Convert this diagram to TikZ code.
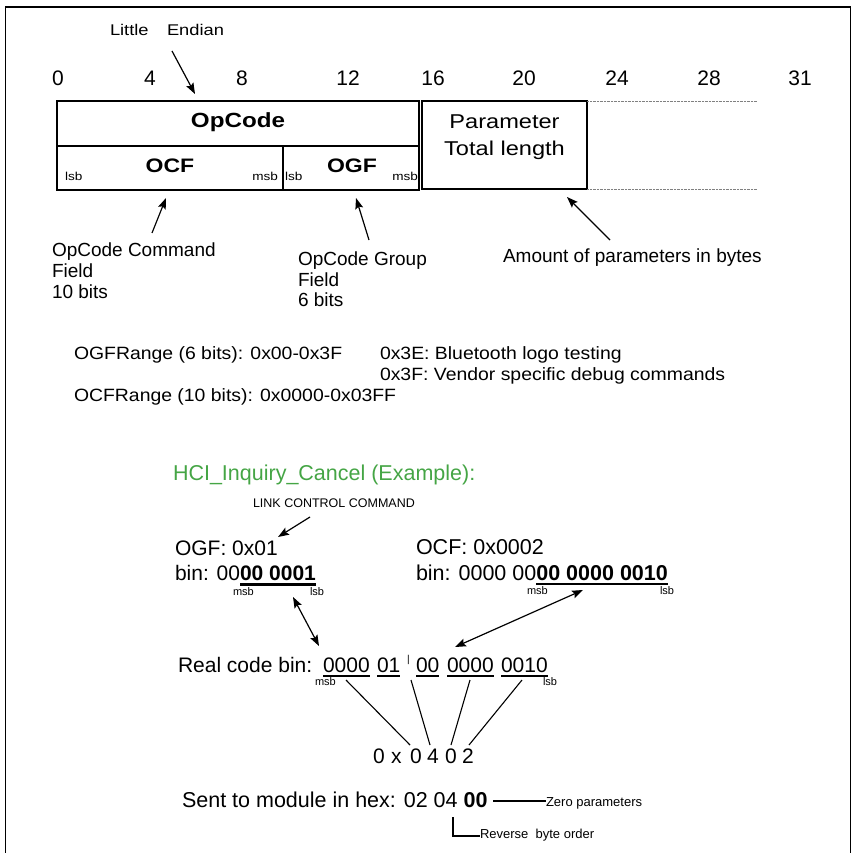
\documentclass[tikz,border=0pt]{standalone}
\usepackage{fontspec}
\setmainfont{Liberation Sans}
\newfontfamily\widefont[FakeStretch=1.18]{Liberation Sans}
\newfontfamily\medfont[FakeStretch=1.09]{Liberation Sans}
\usetikzlibrary{arrows.meta}
\definecolor{hcigreen}{RGB}{69,165,69}
\newcommand{\fsz}[1]{\fontsize{#1}{#1}\selectfont}
\begin{document}
\begin{tikzpicture}[x=1pt,y=-1pt,
  txt/.style={inner sep=0pt, outer sep=0pt, anchor=base west},
  ctxt/.style={inner sep=0pt, outer sep=0pt, anchor=base},
  rtxt/.style={inner sep=0pt, outer sep=0pt, anchor=base east},
  boxline/.style={line width=1.8pt},
  arr/.style={line width=1.2pt, -{Stealth[length=11pt,width=8pt,inset=2pt]}},
  darr/.style={line width=1.2pt, {Stealth[length=11pt,width=8pt,inset=2pt]}-{Stealth[length=11pt,width=8pt,inset=2pt]}},
  thinline/.style={line width=1.1pt},
  uline/.style={line width=2.2pt},
  dots/.style={line width=0.8pt, gray, dash pattern=on 0.7pt off 0.7pt}
]
\useasboundingbox (0,0) rectangle (853,853);
% frame
\draw[line width=1.5pt] (5.5,860) -- (5.5,7) -- (850.5,7) -- (850.5,860);

% header
\node[txt,font=\widefont\fsz{15.5}] (little) at (110,36) {Little};
\node[txt,font=\widefont\fsz{15.5}] (endian) at (167,36) {Endian};
\coordinate (leS) at (172,51);
\coordinate (leE) at (195,94);
\draw[arr] (leS) -- (leE);

\foreach \n/\x in {0/58,4/150,8/242,12/348,16/433,20/524,24/617,28/709,31/800}
  \node[ctxt,font=\fsz{21}] (num\n) at (\x,86) {\n};

% boxes
\draw[boxline] (57,101) rectangle (419,146);
\draw[boxline] (57,146) rectangle (283,190);
\draw[boxline] (283,146) rectangle (419,190);
\draw[boxline] (422,101) rectangle (587,189);
\draw[dots] (587,101) -- (757,101);
\draw[dots] (587,189) -- (757,189);

\node[ctxt,font=\widefont\bfseries\fsz{20.5}] (opcode) at (238,128) {OpCode};
\node[ctxt,font=\widefont\bfseries\fsz{19.5}] (ocf) at (170,173) {OCF};
\node[ctxt,font=\widefont\bfseries\fsz{19.5}] (ogf) at (352,173) {OGF};
\node[txt,font=\widefont\fsz{11.5}] (lsbA) at (65,180) {lsb};
\node[rtxt,font=\widefont\fsz{11.5}] (msbA) at (278,180) {msb};
\node[txt,font=\widefont\fsz{11.5}] (lsbB) at (285,180) {lsb};
\node[rtxt,font=\widefont\fsz{11.5}] (msbB) at (418,180) {msb};
\node[ctxt,font=\widefont\fsz{20}] (par1) at (504.5,129) {Parameter};
\node[ctxt,font=\widefont\fsz{20}] (par2) at (504.5,156) {Total length};

% field labels
\node[txt,font=\fsz{19}] (ocfl1) at (52,256) {OpCode Command};
\node[txt,font=\fsz{19}] (ocfl2) at (52,277) {Field};
\node[txt,font=\fsz{19}] (ocfl3) at (52,298) {10 bits};
\node[txt,font=\fsz{19}] (ogfl1) at (298,265) {OpCode Group};
\node[txt,font=\fsz{19}] (ogfl2) at (298,286) {Field};
\node[txt,font=\fsz{19}] (ogfl3) at (298,306) {6 bits};
\node[txt,font=\fsz{19}] (amount) at (503,262) {Amount of parameters in bytes};

\coordinate (ocfS) at (152,233); \coordinate (ocfE) at (166,198);
\coordinate (ogfS) at (369,240); \coordinate (ogfE) at (356,198);
\coordinate (parS) at (610,240); \coordinate (parE) at (567,197);
\draw[arr] (ocfS) -- (ocfE);
\draw[arr] (ogfS) -- (ogfE);
\draw[arr] (parS) -- (parE);

% ranges
\node[txt,font=\medfont\fsz{17.8}] (ogfr) at (74,359) {OGFRange (6 bits): 0x00-0x3F};
\node[txt,font=\medfont\fsz{17.8}] (r3e) at (380,359) {0x3E: Bluetooth logo testing};
\node[txt,font=\medfont\fsz{17.8}] (r3f) at (380,380) {0x3F: Vendor specific debug commands};
\node[txt,font=\medfont\fsz{17.8}] (ocfr) at (74,401) {OCFRange (10 bits): 0x0000-0x03FF};

% example
\node[txt,font=\fsz{21.5},text=hcigreen] (hci) at (173,480) {HCI\_Inquiry\_Cancel (Example):};
\node[txt,font=\fsz{12.5}] (lcc) at (253,507) {LINK CONTROL COMMAND};
\coordinate (lccS) at (310,517); \coordinate (lccE) at (278,537);
\draw[arr] (lccS) -- (lccE);

\node[txt,font=\fsz{21}] (ogfv) at (175,555) {OGF: 0x01};
\node[txt,font=\fsz{21}] (ogfbA) at (175,580) {bin: 00};
\node[txt,font=\bfseries\fsz{21}] (ogfbB) at (ogfbA.base east) {00 0001};
\draw[uline] ([yshift=-4.5pt]ogfbB.base west) -- ([yshift=-4.5pt]ogfbB.base east);
\node[txt,font=\fsz{11}] (msbC) at (233,595) {msb};
\node[txt,font=\fsz{11}] (lsbC) at (310,595) {lsb};

\node[txt,font=\fsz{21.5}] (ocfv) at (416,554) {OCF: 0x0002};
\node[txt,font=\fsz{21.5}] (ocfbA) at (416,580) {bin: 0000 00};
\node[txt,font=\bfseries\fsz{21.5}] (ocfbB) at (ocfbA.base east) {00 0000 0010};
\draw[uline] ([yshift=-4pt]ocfbB.base west) -- ([yshift=-4pt]ocfbB.base east);
\node[txt,font=\fsz{11}] (msbD) at (527,594) {msb};
\node[txt,font=\fsz{11}] (lsbD) at (660,594) {lsb};

\coordinate (d1a) at (293,597); \coordinate (d1b) at (319,646);
\coordinate (d2a) at (583,590); \coordinate (d2b) at (455,647);
\draw[darr] (d1a) -- (d1b);
\draw[darr] (d2a) -- (d2b);

% real code
\node[txt,font=\fsz{21}] (real) at (178,672) {Real code bin:};
\node[txt,font=\fsz{21}] (rc1) at (323,672) {0000};
\node[txt,font=\fsz{21}] (rc2) at (377,672) {01};
\node[txt,font=\fsz{10}] (bar) at (407,662) {|};
\node[txt,font=\fsz{21}] (rc3) at (416,672) {00};
\node[txt,font=\fsz{21}] (rc4) at (447,672) {0000};
\node[txt,font=\fsz{21}] (rc5) at (501,672) {0010};
\foreach \s in {rc1,rc2,rc3,rc4,rc5}
  \draw[uline] ([yshift=-4pt]\s.base west) -- ([yshift=-4pt]\s.base east);
\node[txt,font=\fsz{11}] (msbE) at (315,685) {msb};
\node[txt,font=\fsz{11}] (lsbE) at (543,685) {lsb};

% hex
\node[txt,font=\fsz{21}] (h0) at (373,763) {0};
\node[txt,font=\fsz{21}] (hx) at (391,763) {x};
\node[txt,font=\fsz{21}] (h1) at (410,763) {0};
\node[txt,font=\fsz{21}] (h2) at (427,763) {4};
\node[txt,font=\fsz{21}] (h3) at (445,763) {0};
\node[txt,font=\fsz{21}] (h4) at (462,763) {2};

\coordinate (l1a) at (346,680); \coordinate (l1b) at (410,745);
\coordinate (l2a) at (411,680); \coordinate (l2b) at (430,745);
\coordinate (l3a) at (470,680); \coordinate (l3b) at (451,745);
\coordinate (l4a) at (522,680); \coordinate (l4b) at (469,745);
\draw[thinline] (l1a) -- (l1b);
\draw[thinline] (l2a) -- (l2b);
\draw[thinline] (l3a) -- (l3b);
\draw[thinline] (l4a) -- (l4b);

% sent
\node[txt,font=\fsz{21.5}] (sent) at (182,807) {Sent to module in hex: 02 04 \textbf{00}};
\node[txt,font=\fsz{13}] (zero) at (546,806) {Zero parameters};
\node[txt,font=\fsz{13}] (rev) at (480,838) {Reverse\ \ byte order};
\coordinate (zS) at (493,801);
\draw[thinline] (zS) -- (zero.west |- zS);
\coordinate (rS) at (453,817);
\draw[thinline] (rS) |- (rev.west |- 0,836);
\end{tikzpicture}
\end{document}
